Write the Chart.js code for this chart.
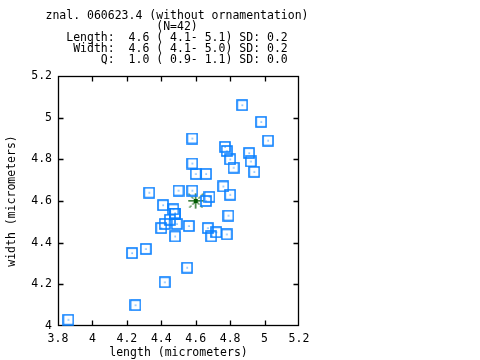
<!DOCTYPE html>
<html>
<head>
<meta charset="utf-8">
<script src="https://cdn.jsdelivr.net/npm/chart.js@4"></script>
<style>
html,body{margin:0;padding:0;background:#fff;}
#wrap{width:480px;height:360px;position:relative;}
</style>
</head>
<body>
<div id="wrap"><canvas id="c" width="480" height="360"></canvas></div>
<script>
// ---- data ----
const titleLines = [
  "znal. 060623.4 (without ornamentation)",
  "(N=42)",
  "Length:  4.6 ( 4.1- 5.1) SD: 0.2",
  " Width:  4.6 ( 4.1- 5.0) SD: 0.2",
  "     Q:  1.0 ( 0.9- 1.1) SD: 0.0"
];
const xTitle = "length (micrometers)";
const yTitle = "width (micrometers)";
const xTickLabels = ["3.8","4","4.2","4.4","4.6","4.8","5","5.2"];
const yTickLabels = ["4","4.2","4.4","4.6","4.8","5","5.2"];
const lengths = [3.86,4.25,4.23,4.31,4.42,4.55,4.33,4.50,4.58,4.76,4.80,4.41,4.47,4.48,4.45,4.42,4.40,4.49,4.56,4.48,4.68,4.66,4.67,4.69,4.72,4.79,4.78,4.87,4.98,5.02,4.58,4.77,4.78,4.80,4.82,4.91,4.92,4.94,4.58,4.60,4.66,4.48];
const widths  = [4.03,4.10,4.35,4.37,4.21,4.28,4.64,4.65,4.65,4.67,4.63,4.58,4.56,4.54,4.51,4.49,4.47,4.49,4.48,4.43,4.62,4.60,4.47,4.43,4.45,4.53,4.44,5.06,4.98,4.89,4.90,4.86,4.84,4.80,4.76,4.83,4.79,4.74,4.78,4.73,4.73,4.54];
const meanLength = [4.6];
const meanWidth = [4.6];

// ---- styles ----
const FONT = "'DejaVu Sans Mono', 'Liberation Mono', monospace";
const BLUE = "rgb(10,128,255)";
const GREEN = "rgb(0,90,0)";

function squareImg(){
  const cv = document.createElement('canvas'); cv.width = 12; cv.height = 12;
  const g = cv.getContext('2d');
  g.strokeStyle = BLUE; g.lineWidth = 1.6;
  g.strokeRect(1,1,10,10);
  g.fillStyle = BLUE; g.fillRect(5.5,5.5,1.2,1.2);
  return cv;
}
function starImg(){
  const cv = document.createElement('canvas'); cv.width = 16; cv.height = 16;
  const g = cv.getContext('2d');
  g.fillStyle = GREEN;
  for (let i = 0; i < 15; i++){
    g.fillRect(i+0.5,7,1,1.6);
    g.fillRect(7,i+0.5,1.6,1);
    if (i % 3 !== 2){ g.fillRect(i+0.5,i+0.5,1.2,1.2); g.fillRect(14.5-i,i+0.5,1.2,1.2); }
  }
  g.fillRect(6,6,4,4);
  return cv;
}

const framePlugin = {
  id: 'frame',
  beforeDatasetsDraw(chart){
    const {ctx, chartArea:a, scales} = chart;
    ctx.save();
    ctx.strokeStyle = '#000'; ctx.lineWidth = 1.3;
    const L = Math.round(a.left)+0.5, R = Math.round(a.right)-0.5, T = Math.round(a.top)+0.5, B = Math.round(a.bottom)-0.5;
    ctx.strokeRect(L, T, R-L, B-T);
    const tl = 5;
    ctx.beginPath();
    scales.x.ticks.forEach((t,i) => {
      if (i === 0 || i === scales.x.ticks.length-1) return;
      const p = Math.round(scales.x.getPixelForValue(t.value)) + 0.5;
      ctx.moveTo(p, B); ctx.lineTo(p, B-tl);
      ctx.moveTo(p, T); ctx.lineTo(p, T+tl);
    });
    scales.y.ticks.forEach((t,i) => {
      if (i === 0 || i === scales.y.ticks.length-1) return;
      const p = Math.round(scales.y.getPixelForValue(t.value)) + 0.5;
      ctx.moveTo(L, p); ctx.lineTo(L+tl, p);
      ctx.moveTo(R, p); ctx.lineTo(R-tl, p);
    });
    ctx.stroke();
    ctx.restore();
  }
};

const pts = lengths.map((x,i) => ({x, y: widths[i]}));
const meanPts = meanLength.map((x,i) => ({x, y: meanWidth[i]}));

new Chart(document.getElementById('c'), {
  type: 'scatter',
  data: {
    datasets: [
      { data: pts, pointStyle: squareImg(), pointRadius: 6, borderColor: BLUE, backgroundColor: BLUE },
      { data: meanPts, pointStyle: starImg(), pointRadius: 8, borderColor: GREEN, backgroundColor: GREEN }
    ]
  },
  options: {
    responsive: false,
    animation: false,
    devicePixelRatio: 1,
    events: [],
    layout: { padding: { left: 0, right: 126, top: 0, bottom: 0 } },
    plugins: {
      legend: { display: false },
      tooltip: { enabled: false },
      title: {
        display: true,
        text: titleLines,
        color: '#000',
        font: { family: FONT, size: 11.5, weight: 'normal', lineHeight: 11/11.5 },
        padding: { top: 11, bottom: 10 }
      }
    },
    scales: {
      x: {
        type: 'linear', position: 'bottom', min: 3.8, max: 5.2,
        grid: { display: false, drawTicks: false },
        border: { display: false },
        ticks: { stepSize: 0.2, padding: 6, color: '#000', font: { family: FONT, size: 11.5 },
                 maxRotation: 0, autoSkip: false,
                 callback: (v, i) => xTickLabels[i] },
        title: { display: true, text: xTitle, color: '#000', font: { family: FONT, size: 11.5, lineHeight: 1 }, padding: { top: 0, bottom: 1 } },
        afterFit: s => { s.height = 34; }
      },
      y: {
        type: 'linear', position: 'left', min: 4, max: 5.2,
        grid: { display: false, drawTicks: false },
        border: { display: false },
        ticks: { stepSize: 0.2, padding: 6, color: '#000', font: { family: FONT, size: 11.5 },
                 autoSkip: false, callback: (v, i) => yTickLabels[i] },
        title: { display: true, text: yTitle, color: '#000', font: { family: FONT, size: 11.5, lineHeight: 1 }, padding: { top: 6, bottom: 0 } },
        afterFit: s => { s.width = 58; }
      },
      y2: {
        type: 'linear', position: 'right', display: true,
        grid: { display: false, drawTicks: false },
        border: { display: false },
        ticks: { display: false },
        afterFit: s => { s.width = 55; }
      }
    }
  },
  plugins: [framePlugin]
});
</script>
</body>
</html>
